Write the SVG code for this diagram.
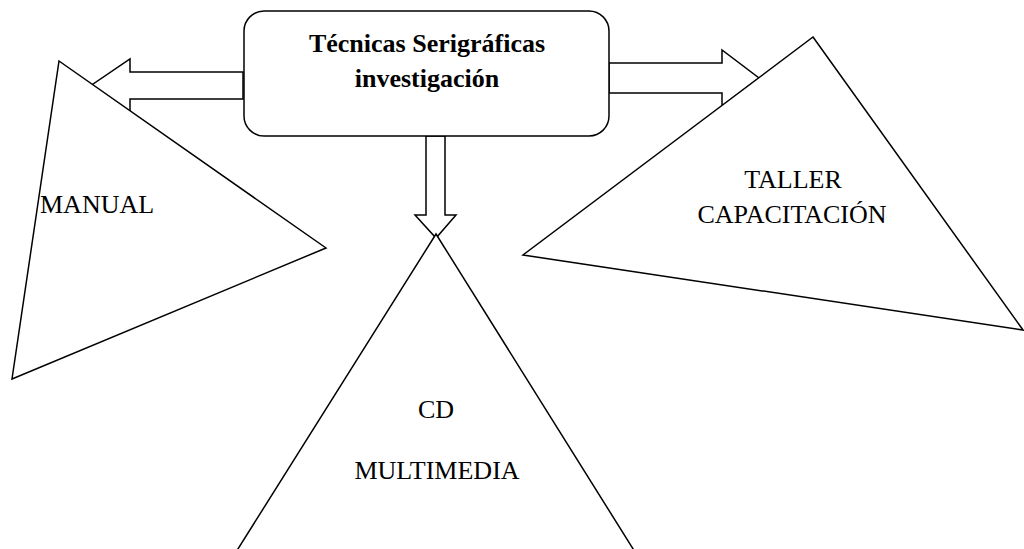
<svg xmlns="http://www.w3.org/2000/svg" width="1024" height="549" viewBox="0 0 1024 549">
<style>
.shape{fill:#fff;stroke:#000;stroke-width:1.5;stroke-linejoin:miter}
.lbl{font-family:"Liberation Serif","Times New Roman",serif;font-size:26px;fill:#000}
.bold{font-weight:bold}
</style>
<rect width="1024" height="549" fill="#fff"/>
<g id="connectors">
<polygon class="shape" points="243,72 130,72 130,59 91,85.5 130,112 130,99 243,99"/>
<polygon class="shape" points="609,63 722,63 722,50 759,78 722,106 722,93 609,93"/>
<polygon class="shape" points="426,136 426,215 415,215 436,238 456,215 445,215 445,136"/>
</g>
<g id="manual">
<polygon class="shape" points="59,61 326,248 12,379"/>
<text class="lbl" x="40" y="213">MANUAL</text>
</g>
<g id="taller">
<polygon class="shape" points="813,37 1023,330 523,255"/>
<text class="lbl" x="793" y="188" text-anchor="middle">TALLER</text>
<text class="lbl" x="792" y="223" text-anchor="middle">CAPACITACIÓN</text>
</g>
<g id="cd">
<polygon class="shape" points="436,234 640,560 231,560"/>
<text class="lbl" x="436" y="418" text-anchor="middle">CD</text>
<text class="lbl" x="437" y="479" text-anchor="middle">MULTIMEDIA</text>
</g>
<g id="tecnicas">
<rect class="shape" x="244" y="11" width="365" height="125" rx="20" ry="20"/>
<text class="lbl bold" x="427" y="52" text-anchor="middle">Técnicas Serigráficas</text>
<text class="lbl bold" x="427" y="87" text-anchor="middle">investigación</text>
</g>
</svg>
